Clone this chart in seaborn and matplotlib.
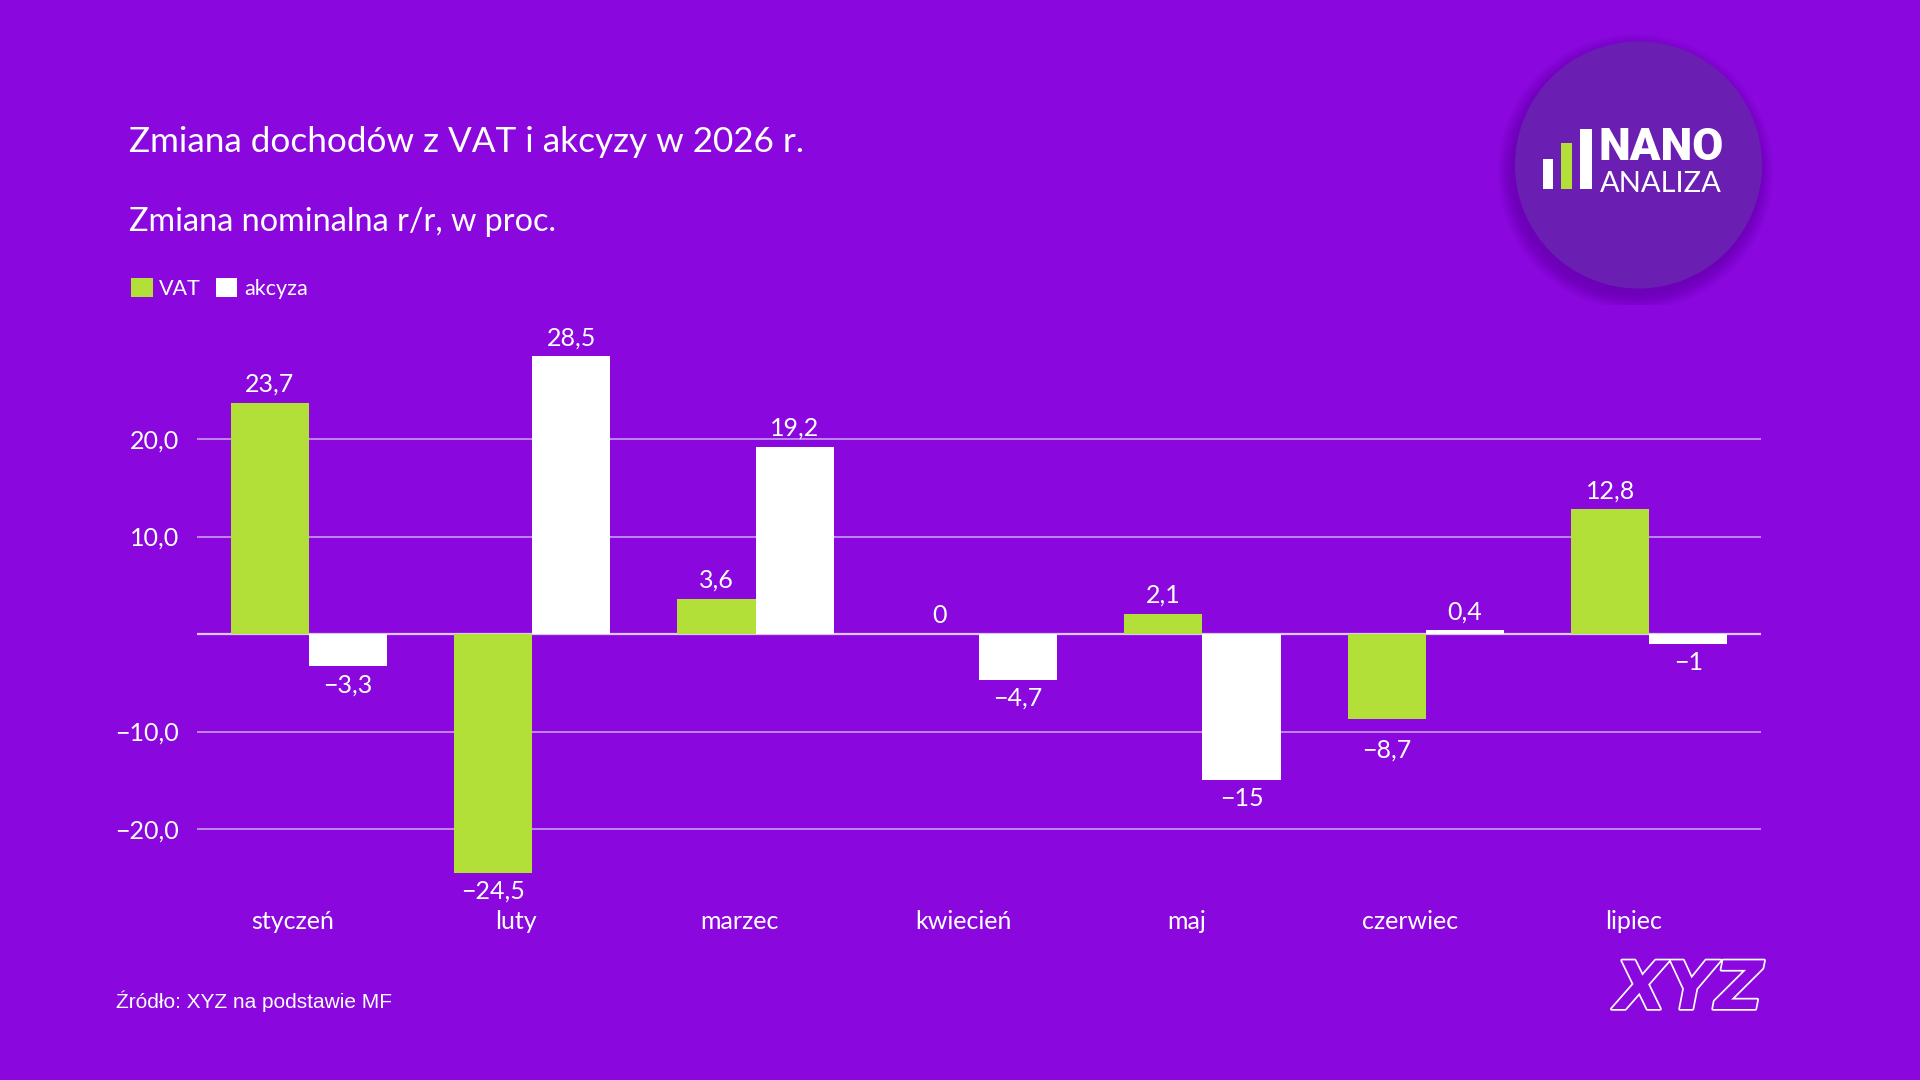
import pandas as pd
import numpy as np
import seaborn as sns
import matplotlib.pyplot as plt
import matplotlib.transforms as mtransforms
from matplotlib.patches import Patch, Circle, Rectangle
import matplotlib.patheffects as pe

# Dane
miesiace = ["styczeń", "luty", "marzec", "kwiecień", "maj", "czerwiec", "lipiec"]
vat = [23.7, -24.5, 3.6, 0, 2.1, -8.7, 12.8]
akcyza = [-3.3, 28.5, 19.2, -4.7, -15, 0.4, -1]
serie = ["VAT", "akcyza"]
y_ticks = [-20, -10, 10, 20]

tlo = "#8A07DE"
zielony = "#B2DF38"
bialy = "#FFFFFF"

df = pd.DataFrame({
    "miesiac": miesiace * 2,
    "wartosc": vat + akcyza,
    "seria": [serie[0]] * len(miesiace) + [serie[1]] * len(miesiace),
})

sns.set_style("white", rc={"axes.facecolor": tlo, "figure.facecolor": tlo})
plt.rcParams["font.family"] = ["Lato", "DejaVu Sans"]


def fmt_pl(v):
    return f"{v:g}".replace(".", ",").replace("-", "\u2212")


fig = plt.figure(figsize=(19.2, 10.8), dpi=100)
fig.patch.set_facecolor(tlo)

# Osie wykresu
ax = fig.add_axes([197 / 1920, 0.1692, (1761 - 197) / 1920, 0.5236])
ax.set_facecolor(tlo)
sns.barplot(data=df, x="miesiac", y="wartosc", hue="seria", hue_order=serie,
            palette=[zielony, bialy], width=0.7, saturation=1, errorbar=None,
            linewidth=0, legend=False, ax=ax, zorder=2)

pt_na_jedn = 9.75 * 72 / 100  # punkty na jednostkę osi y
for c in ax.containers:
    etykiety = ax.bar_label(c, fmt=fmt_pl, padding=5, fontsize=18, color="white")
    for ann, v in zip(etykiety, c.datavalues):
        # etykieta pod słupkiem nie może nachodzić na linię siatki
        if v < 0:
            for g in y_ticks:
                if v - 2.6 < g < v:
                    ann.xyann = (0, -5 - (v - g) * pt_na_jedn)

ax.set_xlim(-0.5, len(miesiace) - 0.5)
ax.set_ylim(-27, 31)
ax.set_yticks(y_ticks)
ax.set_yticklabels([f"{t:.1f}".replace(".", ",").replace("-", "\u2212") for t in y_ticks])
ax.set_xlabel("")
ax.set_ylabel("")
ax.tick_params(axis="both", length=0, colors="white", labelsize=18)
ax.tick_params(axis="y", pad=13)
ax.tick_params(axis="x", pad=9)
przesun = mtransforms.ScaledTranslation(-0.16, 0, fig.dpi_scale_trans)
for lab in ax.get_xticklabels():
    lab.set_transform(lab.get_transform() + przesun)
ax.yaxis.grid(True, color="#C59DEE", linewidth=1.2)
ax.set_axisbelow(True)
ax.axhline(0, color="#DCC8F2", linewidth=1.6, zorder=1)
for s in ax.spines.values():
    s.set_visible(False)

# Tytuły
fig.text(129 / 1920, 1 - 142 / 1080, "Zmiana dochodów z VAT i akcyzy w 2026 r.",
         color="white", fontsize=25.3, va="center", ha="left")
fig.text(129 / 1920, 1 - 222 / 1080, "Zmiana nominalna r/r, w proc.",
         color="white", fontsize=23.3, va="center", ha="left")

# Legenda
uchwyty = [Patch(facecolor=zielony, edgecolor="none", label="VAT"),
           Patch(facecolor=bialy, edgecolor="none", label="akcyza")]
leg = fig.legend(handles=uchwyty, loc="upper left", bbox_to_anchor=(131 / 1920, 1 - 278 / 1080),
                 ncol=2, frameon=False, fontsize=15.5, handlelength=1.0, handleheight=1.0,
                 handletextpad=0.3, columnspacing=0.7, borderpad=0, borderaxespad=0)
for t in leg.get_texts():
    t.set_color("white")

# Źródło
fig.text(116 / 1920, 1 - 1001 / 1080, "Źródło: XYZ na podstawie MF", color="white",
         fontsize=15, family="Liberation Sans", va="center", ha="left")

# Logo NANO ANALIZA
lax = fig.add_axes([1498.5 / 1920, 1 - 305 / 1080, 280 / 1920, 280 / 1080])
lax.set_xlim(0, 280)
lax.set_ylim(280, 0)
lax.axis("off")
for i in range(10):
    lax.add_patch(Circle((137, 147), 123.5 + i * 1.6, color="#3A0070", alpha=0.035, lw=0))
lax.add_patch(Circle((140, 140), 123.5, color="#6B1FB2", lw=0))
lax.add_patch(Rectangle((44.5, 134), 10, 30, color="white", lw=0))
lax.add_patch(Rectangle((62.5, 118), 11, 46, color=zielony, lw=0))
lax.add_patch(Rectangle((81.5, 104), 12, 60, color="white", lw=0))
lax.text(100, 135, "NANO", color="white", fontsize=32.5, fontweight="heavy",
         family=["Roboto", "Lato", "DejaVu Sans"], ha="left", va="baseline")
lax.text(101, 167, "ANALIZA", color="white", fontsize=21, fontweight="normal",
         family=["Lato", "DejaVu Sans"], ha="left", va="baseline")

# Logo XYZ
fig.text(1763 / 1920, 1 - 990 / 1080, "XYZ", color=tlo, fontsize=48, fontweight="bold",
         fontstyle="italic", family="DejaVu Sans", ha="right", va="center",
         path_effects=[pe.Stroke(linewidth=2.5, foreground="white"), pe.Normal()])

fig.savefig("out.png", dpi=100, facecolor=tlo)
